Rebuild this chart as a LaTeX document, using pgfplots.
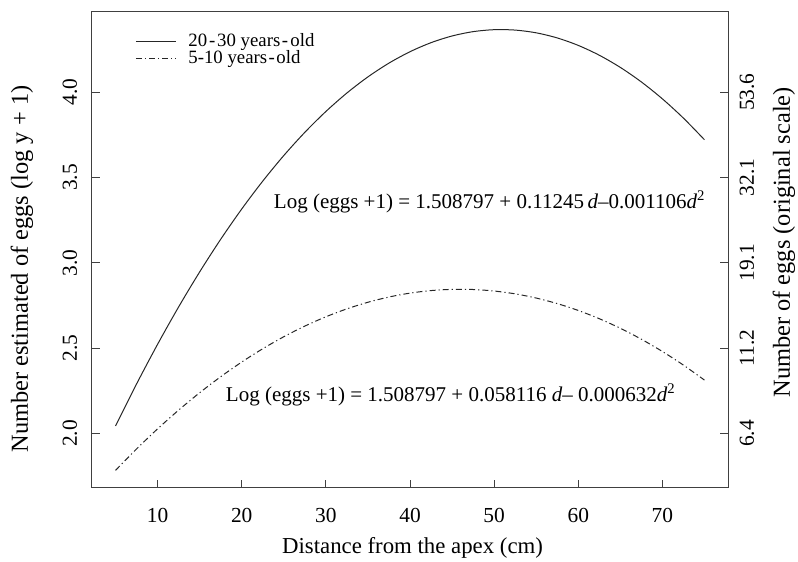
\documentclass[border=0pt]{standalone}
\usepackage{pgfplots}
\pgfplotsset{compat=1.18}
\usepackage{fontspec}
\setmainfont{Liberation Serif}
\begin{document}
\fontsize{10.5}{12.6}\selectfont
\begin{tikzpicture}
\path[use as bounding box] (0,0) rectangle (399pt,281pt);
\pgfplotsset{
  common/.style={
    at={(46pt,37pt)}, anchor=south west,
    width=318pt, height=238pt, scale only axis,
    xmin=2.2, xmax=77.8, ymin=1.680, ymax=4.470,
    tick align=inside, major tick length=4pt,
    axis line style={black!75, line width=0.5pt},
    every tick/.style={black!75, line width=0.5pt},
    /pgf/number format/assume math mode=true,
    tick label style={font=\fontsize{10.7}{12.8}\selectfont},
  }
}
\begin{axis}[common,
  xtick={10,20,30,40,50,60,70},
  xticklabels={10,20,30,40,50,60,70},
  ytick={2,2.5,3,3.5,4},
  yticklabels={2.0,2.5,3.0,3.5,4.0},
  xtick pos=bottom, ytick pos=left,
  xticklabel style={anchor=center, inner sep=0pt},
  xticklabel shift=13.5pt,
  yticklabel style={rotate=90, anchor=center, inner sep=0pt},
  yticklabel shift=11pt,
  xlabel={Distance from the apex (cm)},
  ylabel={Number estimated of eggs (log y + 1)},
  every axis x label/.style={at={(axis description cs:0.504,-0.1261)}, anchor=center,
    font=\fontsize{11.4}{13.7}\selectfont},
  every axis y label/.style={at={(axis description cs:-0.1101,0.46)}, rotate=90, anchor=center,
    font=\fontsize{12.2}{14.6}\selectfont},
  legend style={at={(axis description cs:0.0676,0.955)}, anchor=north west,
    draw=none, fill=none, inner sep=0pt, row sep=0.4pt, column sep=6pt,
    font=\fontsize{9.4}{11.3}\selectfont,
    nodes={inner sep=0pt, anchor=west}},
  legend cell align=left,
  legend image code/.code={\draw[#1] (0pt,0pt) -- (20pt,0pt);},
]
\addplot[black!85, line width=0.5pt, smooth] coordinates {
(5,2.0434) (7.5,2.2900) (10,2.5227) (12.5,2.7416) (15,2.9467) (17.5,3.1380)
(20,3.3154) (22.5,3.4790) (25,3.6288) (27.5,3.7648) (30,3.8869) (32.5,3.9952)
(35,4.0897) (37.5,4.1704) (40,4.2372) (42.5,4.2902) (45,4.3294) (47.5,4.3548)
(50,4.3663) (52.5,4.3640) (55,4.3479) (57.5,4.3180) (60,4.2742) (62.5,4.2166)
(65,4.1452) (67.5,4.0600) (70,3.9609) (72.5,3.8480) (75,3.7213)
};
\addlegendentry{20\kern0.1em-\kern0.1em30 years\kern0.08em-\kern0.12em old}
\addplot[black!85, line width=0.5pt, smooth, dash pattern=on 3pt off 1.5pt on 0.6pt off 1.5pt] coordinates {
(5,1.7836) (7.5,1.9091) (10,2.0268) (12.5,2.1365) (15,2.2384) (17.5,2.3323)
(20,2.4183) (22.5,2.4964) (25,2.5667) (27.5,2.6290) (30,2.6835) (32.5,2.7300)
(35,2.7687) (37.5,2.7994) (40,2.8222) (42.5,2.8372) (45,2.8442) (47.5,2.8434)
(50,2.8346) (52.5,2.8180) (55,2.7934) (57.5,2.7609) (60,2.7206) (62.5,2.6723)
(65,2.6161) (67.5,2.5521) (70,2.4801) (72.5,2.4003) (75,2.3125)
};
\addlegendentry{5-10 years\kern0.08em-\kern0.08em old}
\node[anchor=west, inner sep=0pt] at (axis cs:23.78,3.355)
  {Log (eggs +1) = 1.508797 + 0.11245\,\textit{d}–0.001106\textit{d}\textsuperscript{2}};
\node[anchor=west, inner sep=0pt] at (axis cs:18.08,2.223)
  {Log (eggs +1) = 1.508797 + 0.058116 \textit{d}– 0.000632\textit{d}\textsuperscript{2}};
\end{axis}
\begin{axis}[common,
  axis x line=none, axis y line*=right,
  tick align=inside,
  ytick={2,2.5,3,3.5,4},
  yticklabels={6.4,11.2,19.1,32.1,53.6},
  yticklabel style={rotate=90, anchor=center, inner sep=0pt},
  yticklabel shift=9.5pt,
  ylabel={Number of eggs (original scale)},
  every axis y label/.style={at={(axis description cs:1.088,0.516)}, rotate=90, anchor=center,
    font=\fontsize{12.2}{14.6}\selectfont},
]
\addplot[draw=none] coordinates {(5,2)};
\end{axis}
\end{tikzpicture}
\end{document}
